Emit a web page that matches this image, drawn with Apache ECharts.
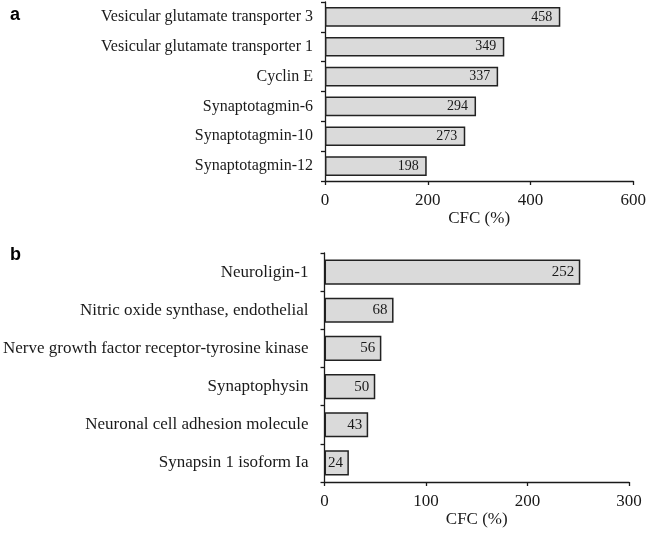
<!DOCTYPE html>
<html>
<head>
<meta charset="utf-8">
<script src="https://cdn.jsdelivr.net/npm/echarts@6/dist/echarts.min.js"></script>
<style>
  html, body { margin: 0; padding: 0; background: #fff; }
  #chart { width: 649px; height: 535px; }
</style>
</head>
<body>
<div id="chart"></div>
<script>
// panel a
const namesA = [
    'Vesicular glutamate transporter 3',
    'Vesicular glutamate transporter 1',
    'Cyclin E',
    'Synaptotagmin-6',
    'Synaptotagmin-10',
    'Synaptotagmin-12',
]
const valuesA = [458, 349, 337, 294, 273, 198]

// panel b
const namesB = [
    'Neuroligin-1',
    'Nitric oxide synthase, endothelial',
    'Nerve growth factor receptor-tyrosine kinase',
    'Synaptophysin',
    'Neuronal cell adhesion molecule',
    'Synapsin 1 isoform Ia',
]
const valuesB = [252, 68, 56, 50, 43, 24]

const serif = '"Liberation Serif", "Times New Roman", serif'
const black = '#1a1a1a'

function xAxisOf(gridIndex, max, interval) {
    return {
        type: 'value',
        gridIndex: gridIndex,
        min: 0,
        max: max,
        interval: interval,
        name: 'CFC (%)',
        nameLocation: 'middle',
        nameGap: 28,
        nameTextStyle: { fontFamily: serif, fontSize: 17, color: black },
        axisLine: { show: true, lineStyle: { color: black, width: 1.3 } },
        axisTick: { show: true, length: 4, lineStyle: { color: black, width: 1.3 } },
        axisLabel: { fontFamily: serif, fontSize: 17, color: black, margin: 11 },
        splitLine: { show: false },
    }
}

function yAxisOf(gridIndex, names, size, margin) {
    return {
        type: 'category',
        gridIndex: gridIndex,
        data: names,
        inverse: true,
        axisLine: { show: true, lineStyle: { color: black, width: 1.3 } },
        axisTick: { show: true, length: 4, lineStyle: { color: black, width: 1.3 } },
        axisLabel: { fontFamily: serif, fontSize: size, color: black, margin: margin },
    }
}

function barsOf(index, values, size, distance) {
    return {
        type: 'bar',
        xAxisIndex: index,
        yAxisIndex: index,
        data: values,
        barCategoryGap: '34%',
        itemStyle: { color: '#dadada', borderColor: '#222', borderWidth: 1.5 },
        label: {
            show: true,
            position: 'insideRight',
            distance: distance,
            fontFamily: serif,
            fontSize: size,
            color: black,
        },
        animation: false,
    }
}

const chart = echarts.init(document.getElementById('chart'))
chart.setOption({
    animation: false,
    title: [
        { text: 'a', left: 5, top: 1, textStyle: { fontFamily: 'Liberation Sans, Arial, sans-serif', fontSize: 18, fontWeight: 'bold', color: '#000' } },
        { text: 'b', left: 5, top: 241, textStyle: { fontFamily: 'Liberation Sans, Arial, sans-serif', fontSize: 18, fontWeight: 'bold', color: '#000' } },
    ],
    grid: [
        { left: 325, right: 13, top: 2, height: 179 },
        { left: 324, right: 20, top: 253, height: 229 },
    ],
    xAxis: [xAxisOf(0, 600, 200), xAxisOf(1, 300, 100)],
    yAxis: [yAxisOf(0, namesA, 16, 12), yAxisOf(1, namesB, 17, 16)],
    series: [barsOf(0, valuesA, 14, 8), barsOf(1, valuesB, 15, 6)],
})
</script>
</body>
</html>
